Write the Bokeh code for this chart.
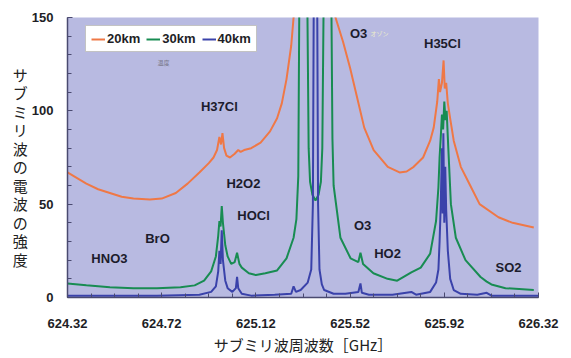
from bokeh.plotting import figure
from bokeh.models import Range1d, Label, Legend, LegendItem, FixedTicker, ColumnDataSource
from bokeh.embed import file_html
from bokeh.resources import INLINE
from bokeh.core.properties import value

# ---------------- data ----------------
x_ticks = [624.32, 624.72, 625.12, 625.52, 625.92, 626.32]
x_tick_labels = ["624.32", "624.72", "625.12", "625.52", "625.92", "626.32"]
y_ticks = [0, 50, 100, 150]
y_tick_labels = ["0", "50", "100", "150"]

f20 = [624.32, 624.40, 624.45, 624.50, 624.55, 624.60, 624.67, 624.72, 624.78, 624.83,
       624.88, 624.92, 624.94, 624.955, 624.965, 624.972, 624.978, 624.985, 624.995, 625.01,
       625.03, 625.045, 625.055, 625.07, 625.10, 625.14, 625.18, 625.21, 625.23, 625.25,
       625.27, 625.28, 625.32, 625.373, 625.42, 625.458, 625.49, 625.52, 625.55, 625.58,
       625.62, 625.68, 625.73, 625.76, 625.79, 625.83, 625.86, 625.875, 625.89, 625.897,
       625.902, 625.91, 625.917, 625.922, 625.928, 625.935, 625.946, 625.96, 625.99, 626.03,
       626.07, 626.15, 626.21, 626.30]
v20 = [67, 61, 58, 56, 54, 53, 52.5, 53, 56, 61,
       67, 72, 75, 79, 86, 82, 88, 80, 76, 75,
       77, 79, 78, 79, 80, 83, 89, 96, 104, 117,
       135, 150, 220, 400, 220, 150, 137, 123, 107, 91,
       79, 70, 67, 67.5, 70, 75, 84, 91, 105, 117,
       110, 115, 127, 112, 115, 104, 95, 84, 70, 60,
       50, 43, 40, 37.5]

f30 = [624.32, 624.40, 624.50, 624.60, 624.70, 624.80, 624.86, 624.90, 624.93, 624.95,
       624.96, 624.965, 624.97, 624.975, 624.98, 624.99, 625.00, 625.015, 625.03, 625.04,
       625.05, 625.06, 625.09, 625.12, 625.16, 625.21, 625.25, 625.28, 625.292, 625.30,
       625.304, 625.315, 625.335, 625.339, 625.344, 625.35, 625.36, 625.373, 625.386, 625.396,
       625.402, 625.407, 625.411, 625.43, 625.441, 625.445, 625.45, 625.479, 625.522, 625.555,
       625.564, 625.575, 625.619, 625.679, 625.72, 625.78, 625.82, 625.86, 625.885, 625.895,
       625.90, 625.905, 625.91, 625.915, 625.92, 625.925, 625.93, 625.937, 625.948, 625.969,
       626.01, 626.074, 626.10, 626.12, 626.18, 626.30]
v30 = [7.5, 6.5, 5.5, 5, 5, 5.5, 6.5, 9, 14, 22,
       33, 41, 38, 49, 40, 28, 22, 18, 19, 24,
       18, 16, 13, 12, 13, 14.5, 21, 32, 42, 65,
       150, 300, 300, 150, 80, 62, 55, 52, 55, 62,
       80, 150, 300, 300, 150, 85, 60, 32, 21, 19,
       24, 18, 13, 10, 9, 13.5, 16, 23.5, 41, 59,
       75, 86, 98, 90, 105, 95, 100, 80, 50, 32,
       20, 11, 8.5, 7, 5, 4]

f40 = [624.32, 624.50, 624.70, 624.88, 624.93, 624.95, 624.96, 624.965, 624.97, 624.975,
       624.98, 624.99, 625.00, 625.02, 625.035, 625.04, 625.045, 625.06, 625.10, 625.20,
       625.27, 625.28, 625.29, 625.31, 625.34, 625.355, 625.362, 625.367, 625.373, 625.379,
       625.384, 625.39, 625.40, 625.41, 625.45, 625.50, 625.555, 625.564, 625.57, 625.60,
       625.70, 625.78, 625.80, 625.86, 625.885, 625.895, 625.90, 625.905, 625.91, 625.913,
       625.916, 625.92, 625.924, 625.928, 625.935, 625.945, 625.96, 625.99, 626.06, 626.10,
       626.12, 626.32]
v40 = [1, 1, 1, 1.5, 3, 6, 14, 25, 18, 36,
       20, 9, 5, 3, 5, 11, 5, 2, 1, 1.5,
       2, 6, 3, 4, 8, 15, 50, 200, 600, 200,
       50, 15, 7, 4, 2, 2, 3, 7.5, 2.5, 1.5,
       1.5, 3, 1.5, 3, 8, 15, 30, 50, 80, 45,
       88, 40, 70, 47, 25, 10, 4, 2, 1.5, 2.5,
       1, 1]

series_names = ["20km", "30km", "40km"]

ann_text = ["H37Cl", "H2O2", "HOCl", "BrO", "HNO3", "O3", "HO2", "SO2", "O3", "H35Cl"]
ann_f = [624.965, 625.067, 625.11, 624.702, 624.498, 625.573, 625.679, 626.193, 625.556, 625.912]
ann_v = [102.3, 61, 44, 31.6, 20.9, 38.6, 23.6, 16, 141.4, 136]

x_title = "サブミリ波周波数［GHz］"
y_title = "サブミリ波の電波の強度"

# ---------------- styles ----------------
C20, C30, C40 = "#ef7846", "#188c52", "#3a42aa"
BOLD_FONT = "Liberation Sans"
JP_FONT = "Noto Sans CJK JP"

p = figure(width=565, height=358, x_range=Range1d(624.32, 626.32), y_range=Range1d(0, 150),
           output_backend="svg", toolbar_location=None,
           min_border_left=67, min_border_right=27, min_border_top=17, min_border_bottom=61)
p.background_fill_color = "#b8bae1"
p.border_fill_color = "white"
p.outline_line_color = None
p.grid.visible = False

r20 = p.line(f20, v20, line_color=C20, line_width=2)
r30 = p.line(f30, v30, line_color=C30, line_width=2)
r40 = p.line(f40, v40, line_color=C40, line_width=2)

minor_x = [round(x_ticks[0] + 0.1 * i, 2) for i in range(21)]
p.xaxis.ticker = FixedTicker(ticks=x_ticks, minor_ticks=minor_x)
p.xaxis.major_label_overrides = dict(zip(x_ticks, x_tick_labels))
minor_y = list(range(0, 151, 10))
p.yaxis.ticker = FixedTicker(ticks=y_ticks, minor_ticks=minor_y)
p.yaxis.major_label_overrides = dict(zip(y_ticks, y_tick_labels))

for ax in (p.xaxis[0], p.yaxis[0]):
    ax.major_tick_in = 5
    ax.major_tick_out = 0
    ax.minor_tick_in = 4
    ax.minor_tick_out = 0
    ax.axis_line_color = "#4a4a70"
    ax.axis_line_width = 1.5
    ax.major_tick_line_color = "#4a4a70"
    ax.minor_tick_line_color = "#4a4a70"
    ax.major_label_text_font = BOLD_FONT
    ax.major_label_text_font_style = "bold"
    ax.major_label_text_font_size = "13px"
    ax.major_label_text_color = "#1e1e26"
    ax.axis_label_text_font = JP_FONT
    ax.axis_label_text_font_style = "normal"
    ax.axis_label_text_font_size = "15px"
    ax.axis_label_text_color = "#222222"
p.xaxis.major_label_standoff = 21
p.yaxis.major_label_standoff = 14
p.xaxis.axis_label = x_title
p.xaxis.axis_label_standoff = 3

p.yaxis.axis_label = "\n" + "\n".join(y_title)
p.yaxis.axis_label_standoff = 1
p.yaxis.axis_label_text_line_height = 0.88
p.yaxis.axis_label_orientation = "horizontal"

# annotations of species
src = ColumnDataSource(dict(x=ann_f, y=ann_v, t=ann_text))
p.text(x="x", y="y", text="t", source=src, text_font=value(BOLD_FONT), text_font_style="bold",
       text_font_size="13px", text_color="#1c1c2c", text_align="center", text_baseline="middle")

# tiny faint notes
p.add_layout(Label(x=624.728, y=125.9, text="温度", text_font=JP_FONT, text_font_size="6px",
                   text_color="#777788", text_align="center", text_baseline="middle"))
p.add_layout(Label(x=625.645, y=141.4, text="オゾン", text_font=JP_FONT, text_font_size="6px",
                   text_color="#eef0c8", text_align="center", text_baseline="middle"))

legend = Legend(items=[LegendItem(label=n, renderers=[r]) for n, r in zip(series_names, [r20, r30, r40])],
                orientation="horizontal", location=(18, 245))
legend.label_text_font = BOLD_FONT
legend.label_text_font_style = "bold"
legend.label_text_font_size = "13px"
legend.label_text_color = "#1e1e26"
legend.glyph_width = 14
legend.glyph_height = 12
legend.label_standoff = 2
legend.spacing = 6
legend.padding = 5
legend.margin = 0
legend.border_line_color = "#888888"
legend.background_fill_color = "white"
legend.background_fill_alpha = 1
p.add_layout(legend)

open("out.html", "w").write(file_html(p, INLINE))
